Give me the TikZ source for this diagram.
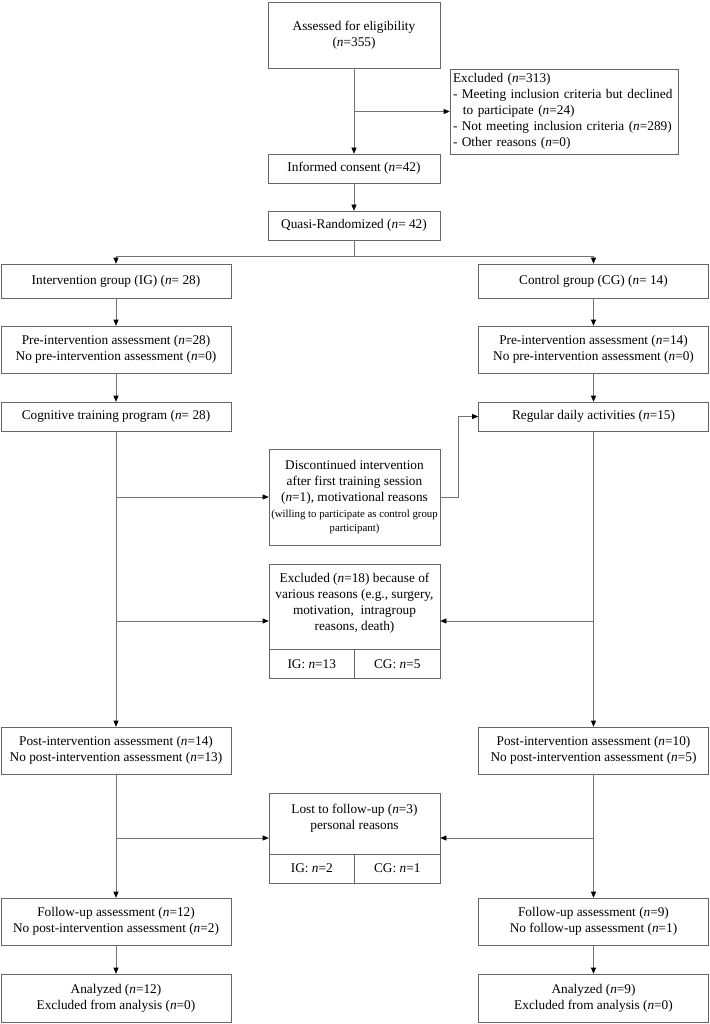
\documentclass[tikz,border=0pt]{standalone}
\usepackage{fontspec}
\setmainfont{Liberation Serif}
\usetikzlibrary{arrows.meta,positioning,calc}

\begin{document}
\begin{tikzpicture}[x=1pt,y=-1pt,
    font=\fontsize{13.3}{16}\selectfont,
    box/.style={draw=black!60, line width=0.6pt, align=center, inner sep=0pt},
    sidebox/.style={box, minimum width=230pt},
    midbox/.style={box, minimum width=171pt},
    cellbox/.style={box, minimum width=85.5pt, minimum height=29pt},
    line/.style={draw=black!55, line width=0.6pt},
    arr/.style={line, -{Triangle[length=6pt,width=5pt,color=black]}}]

    \useasboundingbox (0,0) rectangle (709,1024);

    % enrollment
    \node[box, minimum width=172pt, minimum height=66pt] (assess) at (354,35) {Assessed for eligibility\\(\textit{n}=355)};
    \node[box, align=left, text width=222pt, inner xsep=3pt, minimum height=85pt] (excl) at (564,111.5) {Excluded (\textit{n}=313)\\- Meeting inclusion criteria but declined\\\hspace*{0.75em}to participate (\textit{n}=24)\\- Not meeting inclusion criteria (\textit{n}=289)\\- Other reasons (\textit{n}=0)};
    \node[box, minimum width=172pt, minimum height=29pt] (consent) at (354,168.5) {Informed consent (\textit{n}=42)};
    \node[box, minimum width=172pt, minimum height=29pt] (quasi) at (354,225.5) {Quasi-Randomized (\textit{n}= 42)};
    \coordinate (split) at (354,256);

    % allocation
    \node[sidebox, minimum height=34pt] (ig) at (116,281) {Intervention group (IG) (\textit{n}= 28)};
    \node[sidebox, minimum height=34pt] (cg) at (593.5,281) {Control group (CG) (\textit{n}= 14)};
    \node[sidebox, minimum height=47pt] (preig) at (116,349.5) {Pre-intervention assessment (\textit{n}=28)\\No pre-intervention assessment (\textit{n}=0)};
    \node[sidebox, minimum height=47pt] (precg) at (593.5,349.5) {Pre-intervention assessment (\textit{n}=14)\\No pre-intervention assessment (\textit{n}=0)};
    \node[sidebox, minimum height=29pt] (cogn) at (116,416.5) {Cognitive training program (\textit{n}= 28)};
    \node[sidebox, minimum height=29pt] (regular) at (593.5,416.5) {Regular daily activities (\textit{n}=15)};

    % drop outs
    \node[midbox, minimum height=96pt] (disc) at (354.5,497) {Discontinued intervention\\after first training session\\(\textit{n}=1), motivational reasons\\{\fontsize{10.8}{14}\selectfont (willing to participate as control group}\\[-2pt]{\fontsize{10.8}{14}\selectfont participant)}};
    \node[midbox, minimum height=114pt] (excl18) at (354.5,621) {};
    \node[align=center] (excl18txt) at (354.5,603) {Excluded (\textit{n}=18) because of\\various reasons (e.g., surgery,\\motivation,\ \ intragroup\\reasons, death)};
    \node[cellbox] (excl18ig) at (311.75,664) {IG: \textit{n}=13};
    \node[cellbox] (excl18cg) at (397.25,664) {CG: \textit{n}=5};

    % post
    \node[sidebox, minimum height=47pt] (postig) at (116,750.5) {Post-intervention assessment (\textit{n}=14)\\No post-intervention assessment (\textit{n}=13)};
    \node[sidebox, minimum height=47pt] (postcg) at (593.5,750.5) {Post-intervention assessment (\textit{n}=10)\\No post-intervention assessment (\textit{n}=5)};
    \node[midbox, minimum height=90pt] (lost) at (354.5,838) {};
    \node[align=center] (losttxt) at (354.5,818) {Lost to follow-up (\textit{n}=3)\\personal reasons};
    \node[cellbox] (lostig) at (311.75,868.5) {IG: \textit{n}=2};
    \node[cellbox] (lostcg) at (397.25,868.5) {CG: \textit{n}=1};

    % follow-up and analysis
    \node[sidebox, minimum height=47pt] (fuig) at (116,921.5) {Follow-up assessment (\textit{n}=12)\\No post-intervention assessment (\textit{n}=2)};
    \node[sidebox, minimum height=47pt] (fucg) at (593.5,921.5) {Follow-up assessment (\textit{n}=9)\\No follow-up assessment (\textit{n}=1)};
    \node[sidebox, minimum height=48pt] (anig) at (116,998) {Analyzed (\textit{n}=12)\\Excluded from analysis (\textit{n}=0)};
    \node[sidebox, minimum height=48pt] (ancg) at (593.5,998) {Analyzed (\textit{n}=9)\\Excluded from analysis (\textit{n}=0)};

    \draw[arr] (assess) -- (consent);
    \draw[arr] (assess.south |- excl.west) -- (excl.west);
    \draw[arr] (consent) -- (quasi);
    \draw[line] (quasi) -- (split);
    \draw[arr] (split) -| (ig);
    \draw[arr] (split) -| (cg);

    \draw[arr] (ig) -- (preig);
    \draw[arr] (preig) -- (cogn);
    \draw[arr] (cg) -- (precg);
    \draw[arr] (precg) -- (regular);

    \draw[arr] (cogn) -- (postig);
    \draw[arr] (cogn.south |- disc.west) -- (disc.west);
    \draw[arr] (cogn.south |- excl18.west) -- (excl18.west);
    \draw[arr] (disc.east) -- ++(18,0) |- (regular.west);
    \draw[arr] (regular) -- (postcg);
    \draw[arr] (regular.south |- excl18.east) -- (excl18.east);

    \draw[arr] (postig) -- (fuig);
    \draw[arr] (postig.south |- lost.west) -- (lost.west);
    \draw[arr] (postcg) -- (fucg);
    \draw[arr] (postcg.south |- lost.east) -- (lost.east);
    \draw[arr] (fuig) -- (anig);
    \draw[arr] (fucg) -- (ancg);
\end{tikzpicture}
\end{document}
